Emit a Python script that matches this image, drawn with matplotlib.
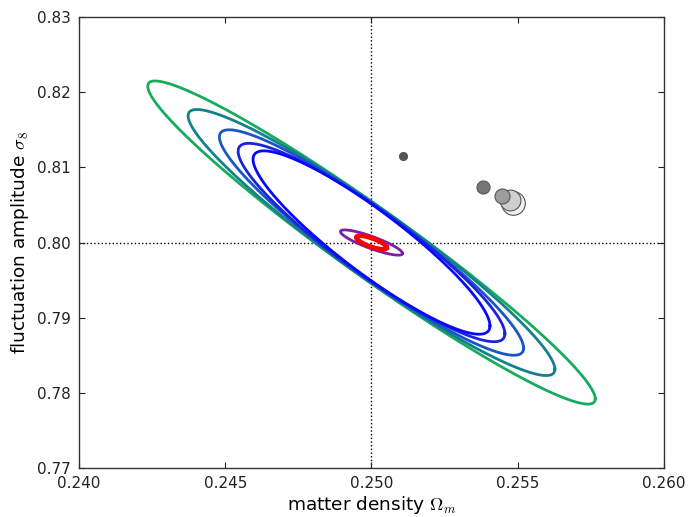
import numpy as np
import matplotlib
matplotlib.use("Agg")
import matplotlib.pyplot as plt


# ============================================================
# Forecast contours around the fiducial cosmology
# ============================================================

FIDUCIAL_OM = 0.250
FIDUCIAL_S8 = 0.800

# 1-sigma widths and correlation of each constraint
CONTOUR_SIG_OM = [0.00765, 0.00627, 0.00520, 0.00456, 0.00405, 0.00106, 0.00052]
CONTOUR_SIG_S8 = [0.0215, 0.0177, 0.0150, 0.0132, 0.0122, 0.00168, 0.00090]
CONTOUR_RHO = [-0.967, -0.952, -0.936, -0.919, -0.908, -0.864, -0.75]
CONTOUR_COLORS = ["#17ab5c", "#12808f", "#1a55c4", "#1c22e2", "#0808ff",
                  "#7a1fa8", "#ff0000"]
CONTOUR_LW = [2.0, 2.0, 2.0, 2.0, 2.0, 2.0, 3.4]

# best-fit points from the biased runs
POINT_OM = [0.25483, 0.25474, 0.25447, 0.25382, 0.25107]
POINT_S8 = [0.80530, 0.80566, 0.80619, 0.80742, 0.81155]
POINT_COLORS = ["#f0f0f0", "#cfcfcf", "#9c9c9c", "#777777", "#555555"]
POINT_SIZES = [17.0, 15.0, 10.8, 9.4, 5.8]

XTICKS = [0.240, 0.245, 0.250, 0.255, 0.260]
YTICKS = [0.77, 0.78, 0.79, 0.80, 0.81, 0.82, 0.83]


def ellipse_path(sx, sy, rho, n=400):
    t = np.linspace(0, 2 * np.pi, n)
    x = FIDUCIAL_OM + sx * np.cos(t)
    y = FIDUCIAL_S8 + sy * (rho * np.cos(t) + np.sqrt(1 - rho ** 2) * np.sin(t))
    return x, y


plt.rcParams["mathtext.fontset"] = "cm"
plt.rcParams["font.family"] = "DejaVu Sans"

fig = plt.figure(figsize=(6.9, 5.17), dpi=100)
ax = fig.add_axes([0.1145, 0.0948, 0.8478, 0.8722])

ax.axvline(FIDUCIAL_OM, color="black", linestyle=":", linewidth=1.0, zorder=1)
ax.axhline(FIDUCIAL_S8, color="black", linestyle=":", linewidth=1.0, zorder=1)

for sx, sy, rho, c, lw in zip(CONTOUR_SIG_OM, CONTOUR_SIG_S8, CONTOUR_RHO,
                              CONTOUR_COLORS, CONTOUR_LW):
    x, y = ellipse_path(sx, sy, rho)
    ax.plot(x, y, color=c, linewidth=lw, zorder=2)

for om, s8, c, ms in zip(POINT_OM, POINT_S8, POINT_COLORS, POINT_SIZES):
    ax.plot(om, s8, marker="o", markersize=ms, markerfacecolor=c,
            markeredgecolor="#555555", markeredgewidth=0.8, zorder=3)

ax.set_xlim(0.240, 0.260)
ax.set_ylim(0.77, 0.83)
ax.set_xticks(XTICKS)
ax.set_yticks(YTICKS)
ax.set_xticklabels([f"{v:.3f}" for v in XTICKS])
ax.set_yticklabels([f"{v:.2f}" for v in YTICKS])
ax.tick_params(direction="in", top=True, right=True, length=4, width=0.8,
               labelsize=11, colors="#222222", pad=6)
for spine in ax.spines.values():
    spine.set_linewidth(1.0)
    spine.set_color("#333333")

ax.set_xlabel(r"matter density $\Omega_m$", fontsize=13.3, labelpad=2)
ax.set_ylabel(r"fluctuation amplitude $\sigma_8$", fontsize=13.3)

fig.savefig("out.png", dpi=100)
